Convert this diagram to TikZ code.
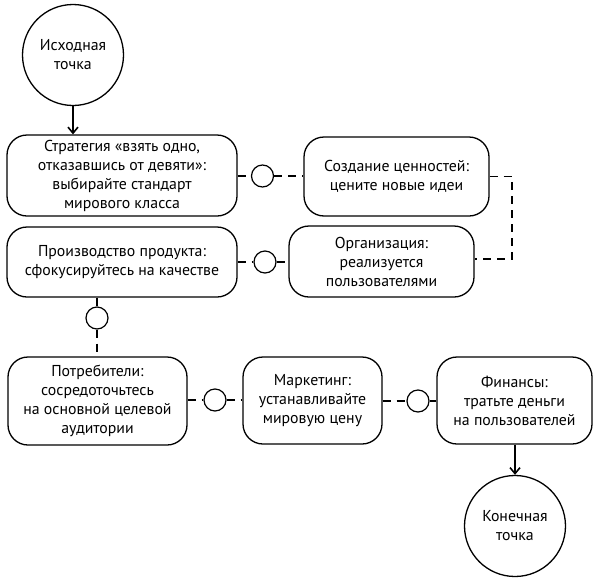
\documentclass[tikz,border=0pt]{standalone}
\usepackage{fontspec}
\setmainfont{PT Sans}
\usetikzlibrary{arrows.meta}
\tikzset{
  box/.style={draw=black, line width=1.3pt, rounded corners=20pt, align=center, inner sep=0pt,
    font=\fontsize{15.8pt}{19pt}\selectfont},
  bigc/.style={draw=black, line width=1.3pt, circle, minimum size=101pt, inner sep=0pt, align=center,
    font=\fontsize{15.8pt}{19pt}\selectfont},
  smallc/.style={draw=black, line width=1.2pt, circle, minimum size=22pt, inner sep=0pt},
  conn/.style={line width=1.8pt, dash pattern=on 8pt off 6pt},
  arr/.style={line width=1.8pt, -{Straight Barb[length=6pt,width=10pt,line width=1.6pt]}},
}
\begin{document}
\begin{tikzpicture}[x=1pt,y=-1pt]
\useasboundingbox (0,0) rectangle (599,581);
\node[bigc] (start) at (73,55) {Исходная\\точка};
\node[box, minimum width=230pt, minimum height=81pt] (strat) at (122,175.5) {Стратегия «взять одно,\\отказавшись от девяти»:\\выбирайте стандарт\\мирового класса};
\node[box, minimum width=185pt, minimum height=79pt] (value) at (396.5,176.5) {Создание ценностей:\\цените новые идеи};
\node[box, minimum width=185pt, minimum height=71pt] (org) at (381.5,261.5) {Организация:\\реализуется\\пользователями};
\node[box, minimum width=230pt, minimum height=70pt] (prod) at (122,262) {Производство продукта:\\сфокусируйтесь на качестве};
\node[box, minimum width=179pt, minimum height=88pt] (cons) at (97.5,401) {Потребители:\\сосредоточьтесь\\на основной целевой\\аудитории};
\node[box, minimum width=139pt, minimum height=87pt] (mark) at (312.5,400.5) {Маркетинг:\\устанавливайте\\мировую цену};
\node[box, minimum width=155pt, minimum height=87pt] (fin) at (514.5,400.5) {Финансы:\\тратьте деньги\\на пользователей};
\node[bigc] (end) at (515,526) {Конечная\\точка};
\node[smallc] (c1) at (262.5,176) {};
\node[smallc] (c2) at (265,262) {};
\node[smallc] (c3) at (97,318) {};
\node[smallc] (c4) at (215,400) {};
\node[smallc] (c5) at (418,401) {};
\coordinate (k1) at (512,176.5);
\coordinate (k2) at (512,259);
\draw[arr] (start.south) -- (start.south |- strat.north);
\draw[arr] (fin.south -| end) -- (end.north);
\draw[conn] (strat.east |- c1) -- (c1);
\draw[conn] (c1) -- (value.west |- c1);
\draw[conn] (value.east) -- (k1) -- (k2) -- (org.east |- k2);
\draw[conn] (prod.east |- c2) -- (c2);
\draw[conn] (c2) -- (org.west |- c2);
\draw[conn] (prod.south -| c3) -- (c3);
\draw[conn] (c3) -- (cons.north -| c3);
\draw[conn] (cons.east |- c4) -- (c4);
\draw[conn] (c4) -- (mark.west |- c4);
\draw[conn] (mark.east |- c5) -- (c5);
\draw[conn] (c5) -- (fin.west |- c5);
\end{tikzpicture}
\end{document}
